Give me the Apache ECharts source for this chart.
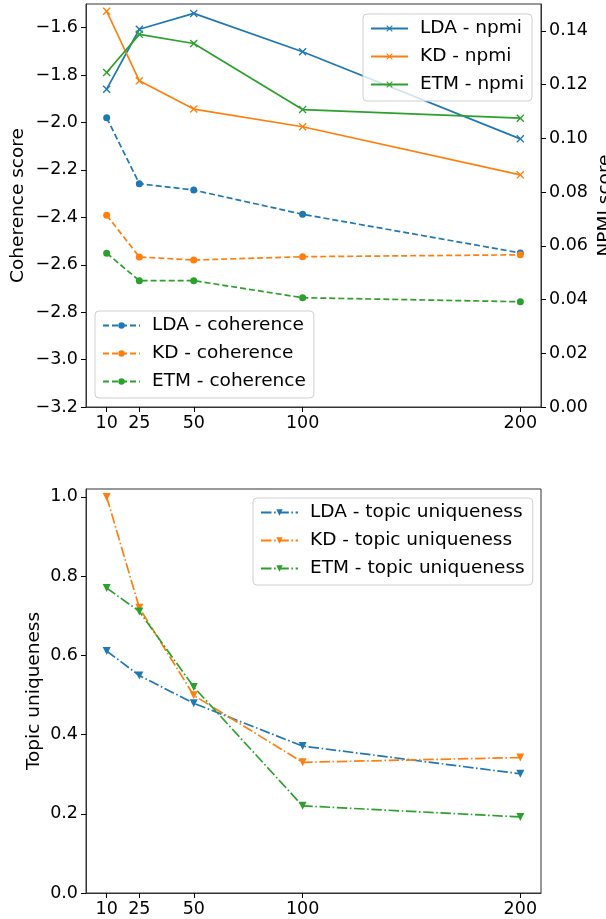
<!DOCTYPE html>
<html>
<head>
<meta charset="utf-8">
<script src="https://cdn.jsdelivr.net/npm/echarts@6/dist/echarts.min.js"></script>
<style>
    html, body { margin: 0; padding: 0; background: #fff; }
    #chart { width: 606px; height: 919px; }
</style>
</head>
<body>
<div id="chart"></div>
<script>
// 数据
const topicCounts = [10, 25, 50, 100, 200];

const ldaCoherence = [-1.98, -2.258, -2.285, -2.387, -2.55];
const kdCoherence = [-2.391, -2.567, -2.58, -2.566, -2.558];
const etmCoherence = [-2.551, -2.667, -2.667, -2.739, -2.756];

const ldaNpmi = [0.1183, 0.1406, 0.1465, 0.1322, 0.0998];
const kdNpmi = [0.1473, 0.1214, 0.1109, 0.1043, 0.0864];
const etmNpmi = [0.1245, 0.1387, 0.1353, 0.1107, 0.1075];

const ldaUniqueness = [0.611, 0.549, 0.479, 0.371, 0.301];
const kdUniqueness = [1.0, 0.72, 0.499, 0.33, 0.342];
const etmUniqueness = [0.77, 0.711, 0.52, 0.22, 0.192];

// 刻度
const coherenceTicks = [-3.2, -3.0, -2.8, -2.6, -2.4, -2.2, -2.0, -1.8, -1.6];
const npmiTicks = [0, 0.02, 0.04, 0.06, 0.08, 0.1, 0.12, 0.14];
const uniquenessTicks = [0, 0.2, 0.4, 0.6, 0.8, 1.0];

const BLUE = '#1f77b4';
const ORANGE = '#ff7f0e';
const GREEN = '#2ca02c';
const FONT = 'DejaVu Sans';
const X_MARK = 'path://M0,1.2L1.2,0L5,3.8L8.8,0L10,1.2L6.2,5L10,8.8L8.8,10L5,6.2L1.2,10L0,8.8L3.8,5Z';

const pairs = (ys) => topicCounts.map((x, i) => [x, ys[i]]);
const minus = (s) => s.replace('-', '\u2212');

// 通用坐标轴样式
const xAxisFor = (gridIndex) => ({
    type: 'value',
    gridIndex: gridIndex,
    min: 0.5,
    max: 209.5,
    splitLine: { show: false },
    axisLine: { lineStyle: { color: '#333', width: 1 } },
    axisTick: { length: 5, customValues: topicCounts, lineStyle: { color: '#000' } },
    axisLabel: { customValues: topicCounts, fontSize: 17.5, color: '#000', margin: 7, fontFamily: FONT }
});

const yAxisFor = (gridIndex, min, max, ticks, digits, position, name, nameGap) => ({
    type: 'value',
    gridIndex: gridIndex,
    position: position,
    min: min,
    max: max,
    name: name,
    nameLocation: 'middle',
    nameRotate: 90,
    nameGap: nameGap,
    nameMoveOverlap: false,
    nameTextStyle: { fontSize: 18.5, color: '#000', fontFamily: FONT },
    splitLine: { show: false },
    axisLine: { show: true, lineStyle: { color: '#333', width: 1 } },
    axisTick: { show: true, length: 5, customValues: ticks, lineStyle: { color: '#000' } },
    axisLabel: {
        customValues: ticks,
        fontSize: 17.5,
        color: '#000',
        margin: 8,
        fontFamily: FONT,
        formatter: (v) => minus(Number(v).toFixed(digits))
    }
});

const lineSeries = (name, data, color, symbol, size, dash, xIdx, yIdx, rotate) => ({
    name: name,
    type: 'line',
    xAxisIndex: xIdx,
    yAxisIndex: yIdx,
    data: pairs(data),
    symbol: symbol,
    symbolSize: size,
    symbolRotate: rotate || 0,
    showAllSymbol: true,
    color: color,
    itemStyle: { color: color },
    lineStyle: { color: color, width: 1.7, type: dash },
    emphasis: { disabled: true },
    animation: false
});

const legendFor = (names, left, top) => ({
    orient: 'vertical',
    left: left,
    top: top,
    data: names,
    itemWidth: 37,
    itemHeight: 8,
    itemGap: 9,
    padding: [5, 8, 7, 7],
    backgroundColor: 'rgba(255,255,255,0.8)',
    borderColor: '#d0d0d0',
    borderWidth: 1,
    borderRadius: 4,
    textStyle: { fontSize: 18.5, color: '#000', fontFamily: FONT, padding: [0, 0, 0, 7] },
    selectedMode: false
});

const DASHED = [6, 3];
const DASHDOT = [10.5, 2.6, 1.6, 2.6];

const option = {
    animation: false,
    backgroundColor: '#fff',
    textStyle: { fontFamily: FONT },
    grid: [
        { left: 86, top: 4, width: 455, height: 403, show: true, borderColor: '#333', borderWidth: 1, outerBoundsMode: 'none', containLabel: false },
        { left: 86, top: 489, width: 455, height: 404, show: true, borderColor: '#333', borderWidth: 1, outerBoundsMode: 'none', containLabel: false }
    ],
    xAxis: [xAxisFor(0), xAxisFor(1)],
    yAxis: [
        yAxisFor(0, -3.2, -1.5, coherenceTicks, 1, 'left', 'Coherence score', 58),
        yAxisFor(0, 0, 0.15, npmiTicks, 2, 'right', 'NPMI score', 55),
        yAxisFor(1, 0, 1.02, uniquenessTicks, 1, 'left', 'Topic uniqueness', 42)
    ],
    legend: [
        legendFor(['LDA - npmi', 'KD - npmi', 'ETM - npmi'], 363, 14),
        legendFor(['LDA - coherence', 'KD - coherence', 'ETM - coherence'], 95, 311),
        legendFor(['LDA - topic uniqueness', 'KD - topic uniqueness', 'ETM - topic uniqueness'], 253, 498)
    ],
    series: [
        lineSeries('LDA - coherence', ldaCoherence, BLUE, 'circle', 7, DASHED, 0, 0),
        lineSeries('KD - coherence', kdCoherence, ORANGE, 'circle', 7, DASHED, 0, 0),
        lineSeries('ETM - coherence', etmCoherence, GREEN, 'circle', 7, DASHED, 0, 0),
        lineSeries('LDA - npmi', ldaNpmi, BLUE, X_MARK, 8, 'solid', 0, 1),
        lineSeries('KD - npmi', kdNpmi, ORANGE, X_MARK, 8, 'solid', 0, 1),
        lineSeries('ETM - npmi', etmNpmi, GREEN, X_MARK, 8, 'solid', 0, 1),
        lineSeries('LDA - topic uniqueness', ldaUniqueness, BLUE, 'triangle', 8, DASHDOT, 1, 2, 180),
        lineSeries('KD - topic uniqueness', kdUniqueness, ORANGE, 'triangle', 8, DASHDOT, 1, 2, 180),
        lineSeries('ETM - topic uniqueness', etmUniqueness, GREEN, 'triangle', 8, DASHDOT, 1, 2, 180)
    ]
};

const chart = echarts.init(document.getElementById('chart'));
chart.setOption(option);
</script>
</body>
</html>
